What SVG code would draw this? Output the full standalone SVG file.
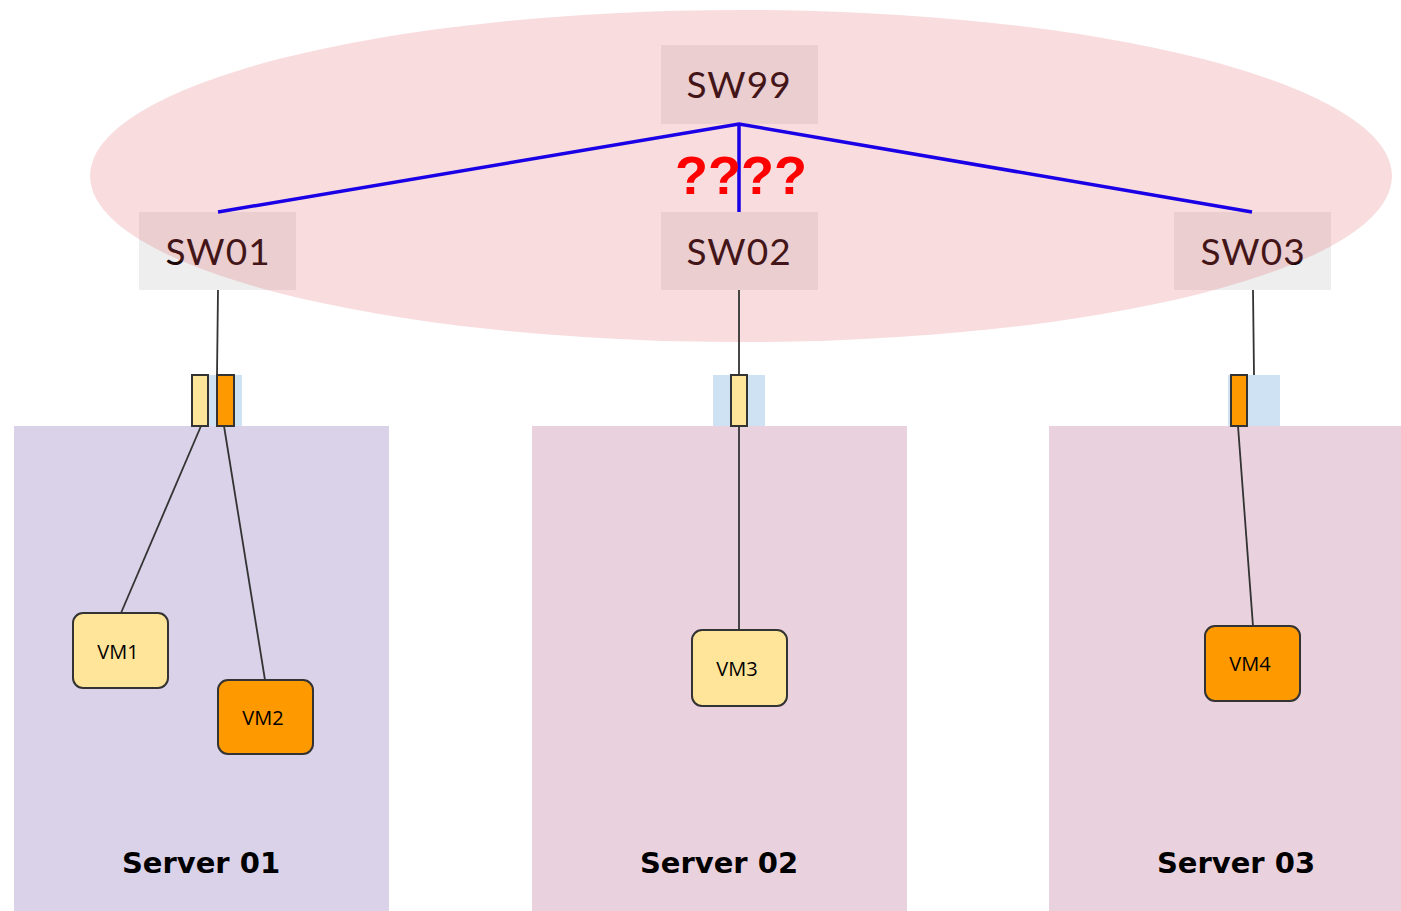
<svg xmlns="http://www.w3.org/2000/svg" width="1401" height="911" viewBox="0 0 1401 911">
  <style>
    .sw rect { fill: #eeeeee; }
    .sw text { font-family: "Lato", "DejaVu Sans", sans-serif; font-size: 37px; fill: #1c0808; text-anchor: middle; letter-spacing: 1px; }
    .srv text { font-family: "DejaVu Sans", sans-serif; font-weight: bold; font-size: 29px; fill: #000; text-anchor: middle; }
    .vm text { font-family: "Open Sans", "Liberation Sans", sans-serif; font-size: 20px; fill: #000; text-anchor: middle; }
    .vm rect { stroke: #333333; stroke-width: 2; }
    .light { fill: #ffe599; }
    .dark { fill: #ff9900; }
    .nic { stroke: #333333; stroke-width: 2; }
    .slot { fill: #cfe2f3; }
    .uplink { stroke: #1a00e6; stroke-width: 3.5; fill: none; }
    .wire { stroke: #333333; stroke-width: 1.8; fill: none; }
  </style>

  <!-- Servers -->
  <g id="server01" class="srv">
    <rect x="14" y="426" width="375" height="485" fill="#dad2e9"/>
    <text x="201" y="873">Server 01</text>
  </g>
  <g id="server02" class="srv">
    <rect x="532" y="426" width="375" height="485" fill="#e9d2dd"/>
    <text x="719" y="873">Server 02</text>
  </g>
  <g id="server03" class="srv">
    <rect x="1049" y="426" width="352" height="485" fill="#e9d2dd"/>
    <text x="1236" y="873">Server 03</text>
  </g>

  <!-- Switches -->
  <g id="sw99" class="sw">
    <rect x="661" y="45" width="157" height="79"/>
    <text x="739" y="98">SW99</text>
  </g>
  <g id="sw01" class="sw">
    <rect x="139" y="212" width="157" height="78"/>
    <text x="218" y="265">SW01</text>
  </g>
  <g id="sw02" class="sw">
    <rect x="661" y="212" width="157" height="78"/>
    <text x="739" y="265">SW02</text>
  </g>
  <g id="sw03" class="sw">
    <rect x="1174" y="212" width="157" height="78"/>
    <text x="1253" y="265">SW03</text>
  </g>

  <!-- Switch fabric zone -->
  <ellipse id="fabric" cx="741" cy="176" rx="651" ry="166" fill="rgb(220,80,90)" fill-opacity="0.2"/>

  <!-- NIC slots -->
  <g id="nics01">
    <rect class="slot" x="191" y="375" width="51" height="51"/>
    <rect class="nic light" x="192" y="375" width="16" height="51"/>
    <rect class="nic dark" x="217" y="375" width="17" height="51"/>
  </g>
  <g id="nics02">
    <rect class="slot" x="713" y="375" width="52" height="51"/>
    <rect class="nic light" x="731" y="375" width="16" height="51"/>
  </g>
  <g id="nics03">
    <rect class="slot" x="1228" y="375" width="52" height="51"/>
    <rect class="nic dark" x="1231" y="375" width="16" height="51"/>
  </g>

  <!-- VMs -->
  <g id="vm1" class="vm">
    <rect class="light" x="73" y="613" width="95" height="75" rx="10"/>
    <text x="118" y="659">VM1</text>
  </g>
  <g id="vm2" class="vm">
    <rect class="dark" x="218" y="680" width="95" height="74" rx="10"/>
    <text x="263" y="725">VM2</text>
  </g>
  <g id="vm3" class="vm">
    <rect class="light" x="692" y="630" width="95" height="76" rx="10"/>
    <text x="737" y="676">VM3</text>
  </g>
  <g id="vm4" class="vm">
    <rect class="dark" x="1205" y="626" width="95" height="75" rx="10"/>
    <text x="1250" y="671">VM4</text>
  </g>

  <!-- Connectors -->
  <g id="connectors">
    <polyline class="uplink" points="218,212 739,124 1252,212"/>
    <line class="uplink" x1="739" y1="124" x2="739" y2="212"/>
    <line class="wire" x1="218" y1="290" x2="217" y2="375"/>
    <line class="wire" x1="739" y1="290" x2="739" y2="375"/>
    <line class="wire" x1="1253" y1="290" x2="1254" y2="375"/>
    <line class="wire" x1="201" y1="426" x2="121" y2="613"/>
    <line class="wire" x1="224" y1="426" x2="265" y2="680"/>
    <line class="wire" x1="739" y1="426" x2="739" y2="630"/>
    <line class="wire" x1="1238" y1="426" x2="1253" y2="626"/>
  </g>

  <text id="unknown" x="741" y="194" font-family="Liberation Sans, sans-serif" font-weight="bold" font-size="54" fill="#ff0000" text-anchor="middle">????</text>
</svg>
